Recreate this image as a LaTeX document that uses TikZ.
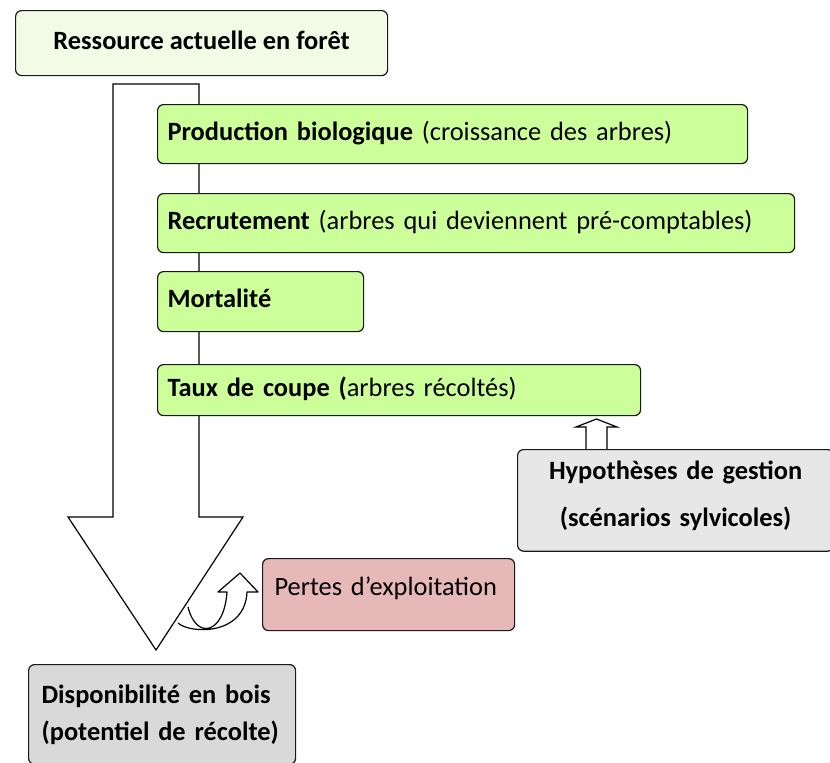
\documentclass[tikz,border=0pt]{standalone}
\usepackage{fontspec}
\setmainfont{Carlito}
\usepackage{tikz}
\definecolor{palegreen}{HTML}{F2FBE6}
\definecolor{boxgreen}{HTML}{CCFF99}
\definecolor{lightgrey}{HTML}{E7E7E7}
\definecolor{midgrey}{HTML}{D9D9D9}
\definecolor{lossred}{HTML}{E6B9B8}
\tikzset{
  box/.style={draw=black!90, line width=1.2pt, rounded corners=6pt, anchor=north west,
    font=\fontsize{26.4}{31}\selectfont, text height=19pt, text depth=6.5pt},
  factor/.style={box, fill=boxgreen, align=left, inner xsep=10pt},
  blockarrow/.style={draw=black, line width=1.2pt, fill=white, line join=miter}
}
\begin{document}
\begin{tikzpicture}[x=1pt,y=-1pt]
\useasboundingbox (0,0) rectangle (830,763);
\draw[blockarrow] (113,84) -- (199,84) -- (199,517) -- (243,517) -- (156,650) -- (68,517) -- (113,517) -- cycle;
\node[box, fill=palegreen, minimum width=372pt, minimum height=65pt, font=\fontsize{26.4}{31}\selectfont\bfseries] (res) at (15,10) {Ressource actuelle en forêt};
\node[factor, text width=570pt, minimum height=59pt] (prod) at (157,104) {\textbf{Production biologique} (croissance des arbres)};
\node[factor, text width=617pt, minimum height=59pt] (recr) at (157,193) {\textbf{Recrutement} (arbres qui deviennent pré-comptables)};
\node[factor, text width=186pt, minimum height=60pt] (mort) at (157,271) {\textbf{Mortalité}};
\node[factor, text width=463pt, minimum height=51pt] (taux) at (157,364) {\textbf{Taux de coupe (}arbres récoltés)};
\draw[blockarrow] (586,449) -- (586,427) -- (576,427) -- (596.5,419) -- (617,427) -- (607,427) -- (607,449);
\node[box, fill=lightgrey, text width=292pt, inner xsep=12pt, inner ysep=11pt, align=center, text height=, text depth=,
  font=\fontsize{26.4}{47}\selectfont\bfseries] (hyp) at (517,449) {Hypothèses de gestion\\(scénarios sylvicoles)\rule[-14pt]{0pt}{14pt}};
\node[box, fill=lossred, text width=228pt, inner xsep=12pt, inner ysep=4pt, text height=33pt, text depth=31pt, align=left] (pertes) at (262,558) {Pertes d’exploitation};
\draw[blockarrow, fill=none, line join=round] (178,623) .. controls (190,634) and (245,636) .. (247,592) -- (258,592) -- (240,573) -- (218,592) -- (227,592) .. controls (224,635) and (196,640) .. (188,607);
\node[box, fill=midgrey, text width=241pt, inner xsep=13pt, inner ysep=20pt, text height=, text depth=, align=left,
  font=\fontsize{26.4}{37}\selectfont\bfseries] (dispo) at (28,664) {Disponibilité en bois\\(potentiel de récolte)};
\end{tikzpicture}
\end{document}
